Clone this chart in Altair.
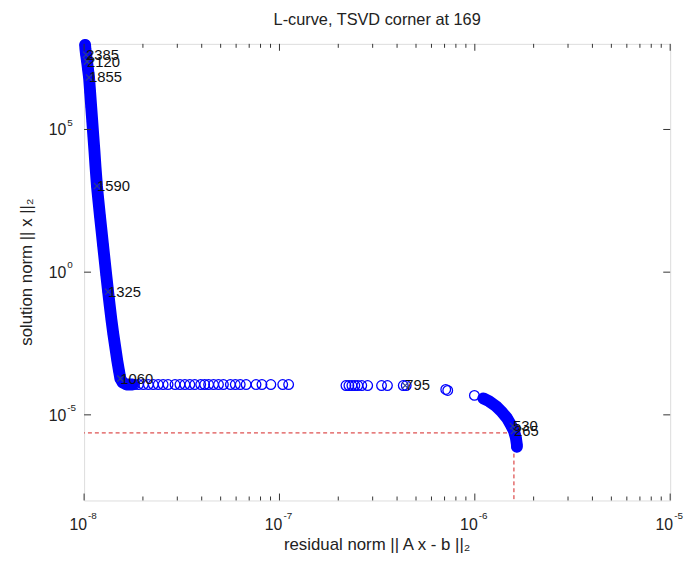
import altair as alt
import pandas as pd

# ---- data (log10 of the values) ----
# steep, densely sampled part of the L-curve (large k)
band_log_res = [-7.9949, -7.9934, -7.9899, -7.9848, -7.9798, -7.9747, -7.9691, -7.9636,
                -7.9580, -7.9525, -7.9469, -7.9418, -7.9342, -7.9267, -7.9191, -7.9110,
                -7.9029, -7.8948, -7.8867, -7.8771, -7.8695, -7.8604, -7.8503, -7.8392,
                -7.8301, -7.8215, -7.8144, -7.8027, -7.7825, -7.7522]
band_log_sol = [7.9654, 7.8270, 7.6194, 7.3772, 7.1003, 6.8235, 6.3045, 5.7855,
                5.2664, 4.7474, 4.2284, 3.7093, 3.0173, 2.4983, 1.9792, 1.4602,
                0.9412, 0.4221, -0.0969, -0.6851, -1.1349, -1.6540, -2.1730, -2.6920,
                -3.1073, -3.4533, -3.7301, -3.8685, -3.9377, -3.9377]
# flat, sparse part
mid_log_res = [-7.7623, -7.7420, -7.7218, -7.6965, -7.6712, -7.6459, -7.6206, -7.5954,
               -7.5701, -7.5347, -7.5094, -7.4841, -7.4588, -7.4335, -7.4032, -7.3829,
               -7.3627, -7.3374, -7.3121, -7.2868, -7.2514, -7.2261, -7.2008, -7.1705,
               -7.1199, -7.0896, -7.0440, -6.9833, -6.9530,
               -6.6596, -6.6445, -6.6293, -6.6141, -6.5989, -6.5787, -6.5484, -6.4775,
               -6.4472, -6.3663, -6.3511, -6.1488, -6.1387, -6.0021]
mid_log_sol = [-3.9377] * 29 + [-3.9723] * 11 + [-4.1107, -4.1453, -4.3183]
# dense part at the lower right (small k)
tail_log_res = [-5.9566, -5.9262, -5.8908, -5.8605, -5.8352, -5.8150, -5.7998, -5.7897,
                -5.7846, -5.7846]
tail_log_sol = [-4.4221, -4.5260, -4.6990, -4.9066, -5.1142, -5.3564, -5.5640, -5.8062,
                -6.0484, -6.1176]

label_idx = [2385, 2120, 1855, 1590, 1325, 1060, 795, 530, 265]
label_log_res = [-7.9899, -7.9848, -7.9747, -7.9342, -7.8771, -7.8144, -6.3562, -5.8048, -5.7998]
label_log_sol = [7.6194, 7.3772, 6.8235, 3.0173, -0.6851, -3.7301, -3.9723, -5.3910, -5.5640]

corner_index = 169
corner_log_res = -5.7998
corner_log_sol = -5.6332

x_major = [1e-8, 1e-7, 1e-6, 1e-5]
x_major_exp = ["-8", "-7", "-6", "-5"]
x_minor = [m * 10.0 ** e for e in (-8, -7, -6) for m in range(2, 10)]
y_major = [1e-5, 1e0, 1e5]
y_major_exp = ["-5", "0", "5"]

title_text = "L-curve, TSVD corner at %d" % corner_index
x_title = "residual norm || A x - b ||\u2082"
y_title = "solution norm || x ||\u2082"

# ---- tables ----
def tab(lr, ls):
    return pd.DataFrame({"res": [10 ** v for v in lr], "sol": [10 ** v for v in ls],
                         "order": list(range(len(lr)))})

band = tab(band_log_res, band_log_sol)
tail = tab(tail_log_res, tail_log_sol)
mid = tab(mid_log_res, mid_log_sol)
pts = pd.concat([band, mid, tail], ignore_index=True)
labels = pd.DataFrame({"res": [10 ** v for v in label_log_res],
                       "sol": [10 ** v for v in label_log_sol],
                       "idx": [str(i) for i in label_idx]})
corner = pd.DataFrame({"res": [10 ** corner_log_res], "sol": [10 ** corner_log_sol]})
xmaj = pd.DataFrame({"v": x_major, "e": x_major_exp})
xmin = pd.DataFrame({"v": x_minor})
ymaj = pd.DataFrame({"v": y_major, "e": y_major_exp})
titles = pd.DataFrame({"xt": [x_title], "yt": [y_title]})

FONT = "Liberation Sans"
W, H = 593, 462
BLUE = "#0000ff"
xs = alt.Scale(type="log", domain=[1e-8, 1e-5], nice=False)
ys = alt.Scale(type="log", domain=[1e-8, 1e8], nice=False)

def X(f, **kw):
    return alt.X(f, scale=xs, axis=None, **kw)

def Y(f, **kw):
    return alt.Y(f, scale=ys, axis=None, **kw)

corner_h = alt.Chart(corner).mark_rule(color="#d42020", strokeDash=[4, 3], strokeWidth=1).encode(
    x=X("res:Q"), x2=alt.value(0), y=Y("sol:Q"))
corner_v = alt.Chart(corner).mark_rule(color="#d42020", strokeDash=[4, 3], strokeWidth=1).encode(
    x=X("res:Q"), y=Y("sol:Q"), y2=alt.value(H))

band_line = alt.Chart(band).mark_line(color=BLUE, strokeWidth=12, strokeCap="round",
                                      strokeJoin="round").encode(
    x=X("res:Q"), y=Y("sol:Q"), order="order:Q")
tail_line = alt.Chart(tail).mark_line(color=BLUE, strokeWidth=12, strokeCap="round",
                                      strokeJoin="round").encode(
    x=X("res:Q"), y=Y("sol:Q"), order="order:Q")

circles = alt.Chart(pts).mark_point(shape="circle", filled=False, size=95, color=BLUE,
                                    strokeWidth=1.3, opacity=1).encode(
    x=X("res:Q"), y=Y("sol:Q"))

xmarks = alt.Chart(labels).mark_point(shape="M-1,-1L1,1M-1,1L1,-1", filled=False, size=40,
                                      color="#2b3f8c", strokeWidth=1.2, opacity=1).encode(
    x=X("res:Q"), y=Y("sol:Q"))
ltext = alt.Chart(labels).mark_text(align="left", baseline="middle", dx=0, font=FONT,
                                    fontSize=15, color="#111").encode(
    x=X("res:Q"), y=Y("sol:Q"), text="idx:N")

tick_style = dict(color="#333", strokeWidth=1)
xt_maj_b = alt.Chart(xmaj).mark_rule(**tick_style).encode(x=X("v:Q"), y=alt.value(H), y2=alt.value(H - 7))
xt_maj_t = alt.Chart(xmaj).mark_rule(**tick_style).encode(x=X("v:Q"), y=alt.value(0), y2=alt.value(7))
xt_min_b = alt.Chart(xmin).mark_rule(**tick_style).encode(x=X("v:Q"), y=alt.value(H), y2=alt.value(H - 4))
xt_min_t = alt.Chart(xmin).mark_rule(**tick_style).encode(x=X("v:Q"), y=alt.value(0), y2=alt.value(4))
yt_l = alt.Chart(ymaj).mark_rule(**tick_style).encode(y=Y("v:Q"), x=alt.value(0), x2=alt.value(7))
yt_r = alt.Chart(ymaj).mark_rule(**tick_style).encode(y=Y("v:Q"), x=alt.value(W), x2=alt.value(W - 7))

xl_base = alt.Chart(xmaj).mark_text(align="center", baseline="alphabetic", font=FONT, fontSize=16,
                                    color="#222", dx=-6).encode(
    x=X("v:Q"), y=alt.value(H + 30), text=alt.value("10"))
xl_exp = alt.Chart(xmaj).mark_text(align="left", baseline="alphabetic", font=FONT, fontSize=10,
                                   color="#222", dx=4).encode(
    x=X("v:Q"), y=alt.value(H + 19), text="e:N")
yl_base = alt.Chart(ymaj).mark_text(align="right", baseline="middle", font=FONT, fontSize=16,
                                    color="#222", dx=-18, dy=1).encode(
    x=alt.value(0), y=Y("v:Q"), text=alt.value("10"))
yl_exp = alt.Chart(ymaj).mark_text(align="left", baseline="alphabetic", font=FONT, fontSize=10,
                                   color="#222", dx=-17, dy=-4).encode(
    x=alt.value(0), y=Y("v:Q"), text="e:N")

x_title_mark = alt.Chart(titles).mark_text(align="center", baseline="alphabetic", font=FONT,
                                           fontSize=17, color="#222").encode(
    x=alt.value(W / 2), y=alt.value(H + 50), text="xt:N")
y_title_mark = alt.Chart(titles).mark_text(align="center", baseline="middle", font=FONT,
                                           fontSize=17, color="#222", angle=270).encode(
    x=alt.value(-58), y=alt.value(H / 2), text="yt:N")

chart = alt.layer(
    corner_h, corner_v, band_line, tail_line, circles, xmarks, ltext,
    xt_maj_b, xt_maj_t, xt_min_b, xt_min_t, yt_l, yt_r,
    xl_base, xl_exp, yl_base, yl_exp, x_title_mark, y_title_mark,
).properties(
    width=W, height=H,
    title=alt.Title(title_text, font=FONT, fontSize=16.5, fontWeight="normal", color="#222",
                    anchor="middle", offset=9),
    autosize=alt.AutoSizeParams(type="none"),
    padding={"left": 77, "top": 33, "right": 15, "bottom": 60},
).configure_view(stroke="#333", strokeWidth=1).configure(background="white")

chart.save("out.html", embed_options={"renderer": "svg", "actions": False})
